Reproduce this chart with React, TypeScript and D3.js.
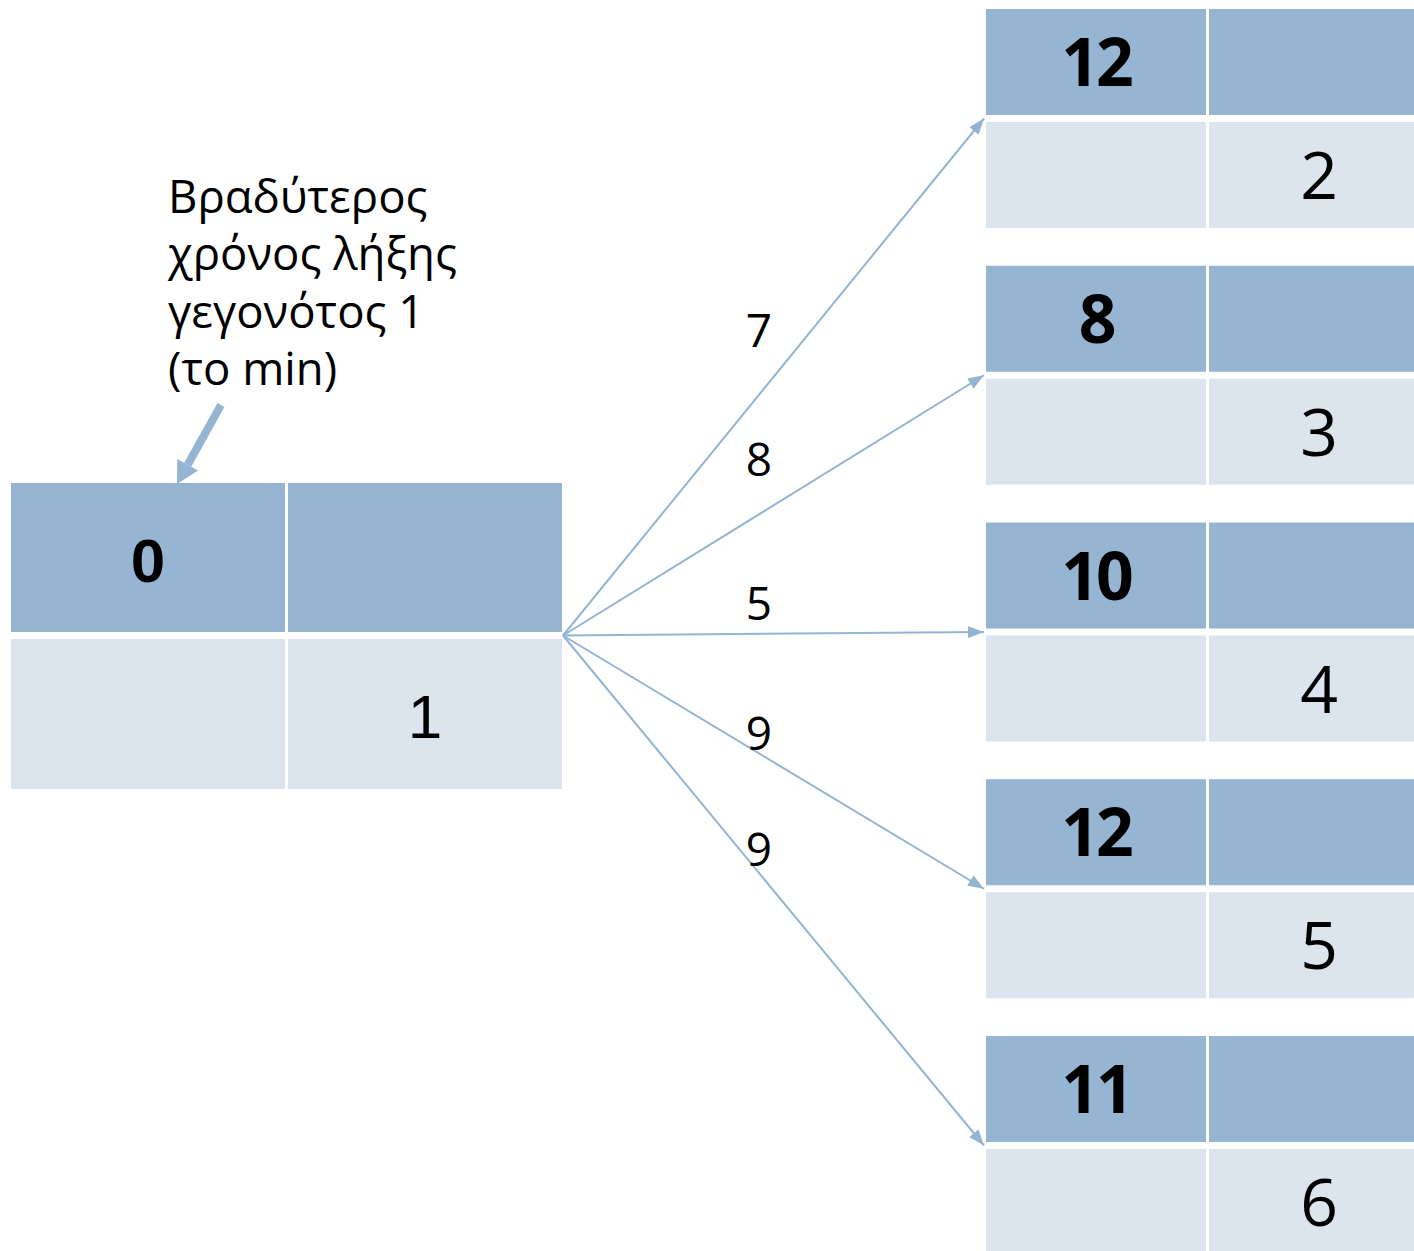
import React from "react";
import * as d3 from "d3";

// ---- data ----
const sourceTime = 0;
const sourceEvent = 1;
const targetTimes = [12, 8, 10, 12, 11];
const targetEvents = [2, 3, 4, 5, 6];
const durations = [7, 8, 5, 9, 9];
const noteLines = ["Βραδύτερος", "χρόνος λήξης", "γεγονότος 1", "(το min)"];

// ---- layout / style ----
const W = 1414;
const H = 1251;
const HEADER = "#95B5D3";
const BODY = "#DCE4EE";
const EDGE = "#94B4D2";
const FONT = "'Open Sans', 'Noto Sans', sans-serif";
const labelDy = [-48, -38, -14, -3, -7];

const SRC = { x: 11, y: 483, colW: 274, div: 3, headH: 149, bodyH: 150, gap: 7 };
const TGT = { x: 986, colW: 220, div: 3, headH: 106, bodyH: 106, gap: 7 };

export default function App() {
  const yTarget = d3
    .scaleLinear()
    .domain([0, targetTimes.length - 1])
    .range([9, 1036]);

  const srcPt: [number, number] = [
    SRC.x + 2 * SRC.colW + SRC.div + 1,
    SRC.y + SRC.headH + SRC.gap / 2,
  ];
  const tipX = TGT.x - 2;
  const labelX = 759;
  const line = d3.line();

  const box = (x: number, y: number, b: typeof SRC, key: string) => (
    <g key={key}>
      <rect x={x} y={y} width={b.colW} height={b.headH} fill={HEADER} />
      <rect x={x + b.colW + b.div} y={y} width={b.colW} height={b.headH} fill={HEADER} />
      <rect x={x} y={y + b.headH + b.gap} width={b.colW} height={b.bodyH} fill={BODY} />
      <rect
        x={x + b.colW + b.div}
        y={y + b.headH + b.gap}
        width={b.colW}
        height={b.bodyH}
        fill={BODY}
      />
    </g>
  );

  // annotation arrow
  const aStart: [number, number] = [221, 405];
  const aTip: [number, number] = [177, 484];
  const ang = Math.atan2(aTip[1] - aStart[1], aTip[0] - aStart[0]);
  const headLen = 22;
  const headHalf = 12;
  const base: [number, number] = [
    aTip[0] - headLen * Math.cos(ang),
    aTip[1] - headLen * Math.sin(ang),
  ];
  const perp = ang + Math.PI / 2;
  const headPts = [
    aTip,
    [base[0] + headHalf * Math.cos(perp), base[1] + headHalf * Math.sin(perp)],
    [base[0] - headHalf * Math.cos(perp), base[1] - headHalf * Math.sin(perp)],
  ];

  return (
    <div style={{ position: "absolute", left: 0, top: 0 }}>
      <svg width={W} height={H} style={{ display: "block", background: "#fff" }}>
        <defs>
          <marker
            id="arr"
            markerUnits="userSpaceOnUse"
            markerWidth={16}
            markerHeight={12}
            refX={16}
            refY={6}
            orient="auto"
          >
            <path d="M0,0 L16,6 L0,12 Z" fill={EDGE} />
          </marker>
        </defs>

        {/* source box */}
        {box(SRC.x, SRC.y, SRC, "src")}
        <text
          x={SRC.x + SRC.colW / 2}
          y={SRC.y + SRC.headH / 2 + 24}
          textAnchor="middle"
          fontFamily="'Liberation Sans', Arial, sans-serif"
          fontWeight="bold"
          fontSize={62}
        >
          {sourceTime}
        </text>
        <text
          x={SRC.x + SRC.colW + SRC.div + SRC.colW / 2}
          y={SRC.y + SRC.headH + SRC.gap + SRC.bodyH / 2 + 24}
          textAnchor="middle"
          fontFamily="'Liberation Sans', Arial, sans-serif"
          fontSize={62}
        >
          {sourceEvent}
        </text>

        {/* target boxes */}
        {targetTimes.map((t, i) => {
          const y = yTarget(i);
          return (
            <g key={"t" + i}>
              {box(TGT.x, y, TGT as any, "b" + i)}
              <text
                x={TGT.x + TGT.colW / 2}
                y={y + TGT.headH / 2 + 24}
                textAnchor="middle"
                fontFamily={FONT}
                fontWeight="bold"
                fontSize={66}
                letterSpacing={-3}
              >
                {t}
              </text>
              <text
                x={TGT.x + TGT.colW + TGT.div + TGT.colW / 2}
                y={y + TGT.headH + TGT.gap + TGT.bodyH / 2 + 24}
                textAnchor="middle"
                fontFamily={FONT}
                fontSize={66}
              >
                {targetEvents[i]}
              </text>
            </g>
          );
        })}

        {/* edges */}
        {durations.map((d, i) => {
          const tip: [number, number] = [tipX, yTarget(i) + TGT.headH + TGT.gap / 2];
          const t = (labelX - srcPt[0]) / (tip[0] - srcPt[0]);
          const ly = srcPt[1] + t * (tip[1] - srcPt[1]);
          return (
            <g key={"e" + i}>
              <path
                d={line([srcPt, tip]) || ""}
                stroke={EDGE}
                strokeWidth={2}
                fill="none"
                markerEnd="url(#arr)"
              />
              <text
                x={labelX}
                y={ly + labelDy[i]}
                textAnchor="middle"
                fontFamily={FONT}
                fontSize={46}
              >
                {d}
              </text>
            </g>
          );
        })}

        {/* annotation */}
        <text fontFamily={FONT} fontSize={45.5}>
          {noteLines.map((l, i) => (
            <tspan key={i} x={168} y={213 + i * 57.3}>
              {l}
            </tspan>
          ))}
        </text>
        <path d={line([aStart, base]) || ""} stroke={HEADER} strokeWidth={8} fill="none" />
        <polygon points={headPts.map((p) => p.join(",")).join(" ")} fill={HEADER} />
      </svg>
    </div>
  );
}
